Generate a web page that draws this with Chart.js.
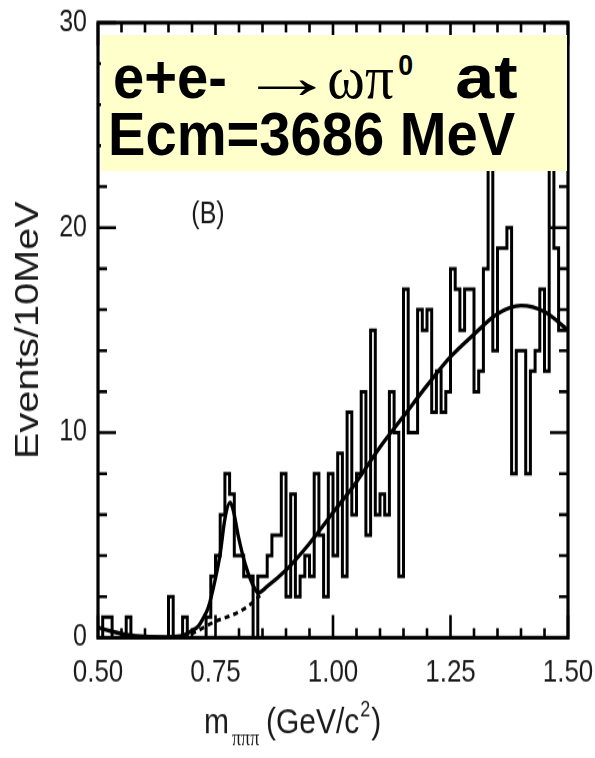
<!DOCTYPE html>
<html>
<head>
<meta charset="utf-8">
<title>e+e- → ωπ0 at Ecm=3686 MeV</title>
<script src="https://cdn.jsdelivr.net/npm/chart.js@4.4.1/dist/chart.umd.min.js"></script>
<style>
  html, body { margin: 0; padding: 0; background: #fff; }
  #wrap { position: relative; width: 595px; height: 758px; overflow: hidden; }
  #c { position: absolute; left: 0; top: 0; transform: scaleY(1.2); transform-origin: 0 0; }
  #note {
    position: absolute; left: 101px; top: 35px; width: 466px; height: 136px;
    background: #ffffcc; color: #000;
    font-family: 'Liberation Sans', Arial, sans-serif; font-weight: bold;
  }
  #note .line { position: absolute; white-space: nowrap; font-size: 61px; line-height: 61px;
                transform: scaleX(0.92); transform-origin: 0 50%; }
  #note .ib { display: inline-block; }
  #note .arrow { font-family: 'Liberation Serif', 'DejaVu Serif', serif; font-weight: normal; font-size: 62px;
                 transform: scaleX(1.7); transform-origin: 0 50%; position: relative; left: -12px; }
  #note .greek { font-family: 'Liberation Serif', 'DejaVu Serif', serif; font-weight: normal; font-size: 62px; }
  #note .sup { font-size: 29px; position: relative; top: -23px; }
  #note .at { transform: scaleX(1.25); transform-origin: 0 50%; }
</style>
</head>
<body>
<div id="wrap">
  <canvas id="c" width="595" height="632"></canvas>
  <div id="note">
    <div class="line" style="left:12px; top:12px;"><span class="ib" style="width:148px">e+e-</span><span class="ib arrow" style="width:85px">→</span><span class="ib greek" style="width:77px">ωπ</span><span class="ib" style="width:62px"><span class="sup">0</span></span><span class="ib at">at</span></div>
    <div class="line" style="left:7px; top:69px;">Ecm=3686 MeV</div>
  </div>
</div>
<script>
// --- data ---
const binStart = 0.50;   // GeV/c2, left edge of first bin
const binWidth = 0.01;   // 10 MeV bins
const counts = [
  0, 0, 1, 1, 0, 0, 0, 1, 0, 0,        // 0.50 - 0.59
  0, 0, 0, 0, 0, 0, 2, 0, 0, 1,        // 0.60 - 0.69
  0, 0, 0, 0, 1, 3, 4, 6, 8, 7,        // 0.70 - 0.79
  4, 4, 3, 3, 0, 3, 3, 4, 5, 5,        // 0.80 - 0.89
  8, 2, 7, 2, 3, 4, 3, 8, 5, 2,        // 0.90 - 0.99
  8, 4, 9, 3, 11, 6, 8, 12, 5, 15,     // 1.00 - 1.09
  6, 7, 6, 12, 10, 3, 17, 10, 10, 16,  // 1.10 - 1.19
  15, 16, 11, 13, 11, 12, 18, 17, 15, 17, // 1.20 - 1.29
  17, 12, 13, 18, 25, 14, 19, 19, 20, 8,  // 1.30 - 1.39
  14, 14, 8, 13, 14, 17, 13, 25, 19, 15   // 1.40 - 1.49
];

// fit curve (signal + background), read at points along the line
const fitMass = [0.50, 0.53, 0.56, 0.60, 0.65, 0.68, 0.70, 0.713, 0.725, 0.735, 0.749, 0.76, 0.77, 0.781, 0.788,
                 0.799, 0.813, 0.827, 0.841, 0.86, 0.90, 0.95, 1.00, 1.05, 1.10, 1.15, 1.20, 1.25, 1.30, 1.35,
                 1.40, 1.45, 1.50];
const fitValue = [0.5, 0.3, 0.15, 0.05, 0.03, 0.1, 0.35, 0.55, 1.0, 1.5, 2.8, 4.1, 5.8, 6.6, 6.2,
                  4.9, 3.6, 2.7, 2.2, 2.5, 3.3, 4.6, 6.1, 7.6, 9.3, 10.8, 12.3, 13.7, 14.8, 15.8,
                  16.2, 15.9, 15.0];

// background only (dashed) under the omega peak
const bgMass = [0.68, 0.70, 0.75, 0.79, 0.82, 0.845];
const bgValue = [0.05, 0.2, 0.8, 1.15, 1.55, 2.05];

const xTickValues = [0.50, 0.75, 1.00, 1.25, 1.50];
const xTickLabels = ['0.50', '0.75', '1.00', '1.25', '1.50'];
const yTickValues = [0, 10, 20, 30];
const yTickLabels = ['0', '10', '20', '30'];

// --- build chart data ---
const histPoints = counts.map((c, i) => ({ x: binStart + i * binWidth, y: c }));
histPoints.push({ x: binStart + counts.length * binWidth, y: counts[counts.length - 1] });
const fitPoints = fitMass.map((m, i) => ({ x: m, y: fitValue[i] }));
const bgPoints = bgMass.map((m, i) => ({ x: m, y: bgValue[i] }));

const FONT = "'Liberation Sans', Arial, Helvetica, sans-serif";
const CANVAS_H = 632;

// frame with inward ticks on all four sides, plus the extra labels
const frameTicks = {
  id: 'frameTicks',
  afterDatasetsDraw(chart) {
    const { ctx, chartArea: a, scales: { x, y } } = chart;
    ctx.save();
    ctx.strokeStyle = '#000';
    ctx.lineWidth = 2.6;
    ctx.beginPath();
    for (let v = 0; v <= 30; v += 2) {
      const py = y.getPixelForValue(v);
      const len = v % 10 === 0 ? 18 : 9;
      ctx.moveTo(a.left, py); ctx.lineTo(a.left + len, py);
      ctx.moveTo(a.right, py); ctx.lineTo(a.right - len, py);
    }
    for (let i = 0; i <= 20; i++) {
      const px = x.getPixelForValue(0.5 + i * 0.05);
      const len = i % 5 === 0 ? 19 : 8;
      ctx.moveTo(px, a.bottom); ctx.lineTo(px, a.bottom - len);
      ctx.moveTo(px, a.top); ctx.lineTo(px, a.top + len);
    }
    ctx.stroke();
    ctx.lineWidth = 3.2;
    ctx.strokeRect(a.left, a.top, a.right - a.left, a.bottom - a.top);

    ctx.fillStyle = '#1a1a1a';
    ctx.textBaseline = 'alphabetic';
    ctx.textAlign = 'center';
    ctx.font = '25px ' + FONT;
    ctx.fillText('(B)', 208, 186);

    // x axis title: m_πππ (GeV/c²)
    ctx.textAlign = 'left';
    ctx.font = '30px ' + FONT;
    ctx.fillText('m', 204, 611);
    ctx.font = "18px 'Liberation Serif', 'DejaVu Serif', serif";
    ctx.fillText('πππ', 232, 621);
    ctx.font = '30px ' + FONT;
    ctx.fillText('(GeV/c', 266, 611);
    const w1 = ctx.measureText('(GeV/c').width;
    ctx.font = '18px ' + FONT;
    ctx.fillText('2', 266 + w1 + 1, 597);
    const w2 = ctx.measureText('2').width;
    ctx.font = '30px ' + FONT;
    ctx.fillText(')', 266 + w1 + w2 + 2, 611);
    ctx.restore();
  }
};

new Chart(document.getElementById('c'), {
  type: 'line',
  data: {
    datasets: [
      {
        label: 'data',
        data: histPoints,
        stepped: 'after',
        borderColor: '#000',
        borderWidth: 3,
        pointRadius: 0,
        fill: false
      },
      {
        label: 'fit',
        data: fitPoints,
        borderColor: '#000',
        borderWidth: 3.4,
        pointRadius: 0,
        cubicInterpolationMode: 'monotone',
        fill: false
      },
      {
        label: 'background',
        data: bgPoints,
        borderColor: '#000',
        borderWidth: 3,
        borderDash: [5, 4],
        pointRadius: 0,
        cubicInterpolationMode: 'monotone',
        fill: false
      }
    ]
  },
  options: {
    responsive: false,
    animation: false,
    devicePixelRatio: 1,
    layout: { padding: { top: 18.9, right: 27, bottom: 0, left: 0 } },
    plugins: { legend: { display: false }, tooltip: { enabled: false } },
    scales: {
      x: {
        type: 'linear',
        min: 0.5,
        max: 1.5,
        grid: { display: false, drawTicks: false },
        border: { display: false },
        afterBuildTicks: (s) => { s.ticks = xTickValues.map(v => ({ value: v })); },
        afterFit: (s) => { s.height = CANVAS_H - 531.4; s.paddingLeft = 0; s.paddingRight = 0; },
        ticks: {
          autoSkip: false,
          maxRotation: 0,
          padding: 14,
          color: '#1a1a1a',
          font: { size: 26, family: FONT },
          callback: (v, i) => xTickLabels[i]
        }
      },
      y: {
        min: 0,
        max: 30,
        grid: { display: false, drawTicks: false },
        border: { display: false },
        afterBuildTicks: (s) => { s.ticks = yTickValues.map(v => ({ value: v })); },
        afterFit: (s) => { s.width = 98; s.paddingTop = 0; s.paddingBottom = 0; },
        ticks: {
          padding: 11,
          color: '#1a1a1a',
          font: { size: 25, family: FONT },
          callback: (v, i) => yTickLabels[i]
        },
        title: {
          display: true,
          text: 'Events/10MeV',
          color: '#1a1a1a',
          font: { size: 33, family: FONT },
          padding: { top: 9, bottom: 0 }
        }
      }
    }
  },
  plugins: [frameTicks]
});
</script>
</body>
</html>
